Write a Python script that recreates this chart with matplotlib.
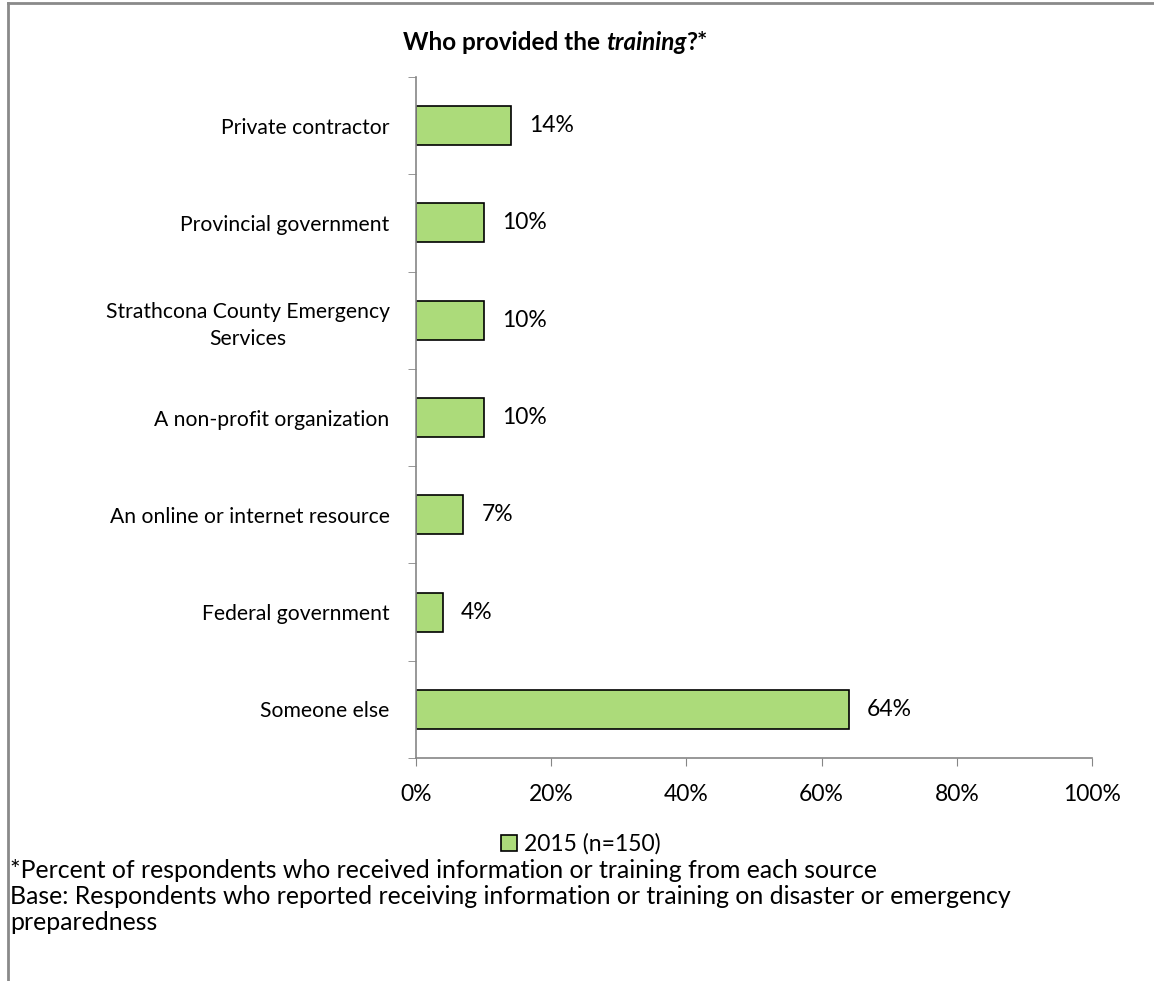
import matplotlib.pyplot as plt
from matplotlib.patches import Patch
from matplotlib.lines import Line2D

# data
categories = ["Private contractor", "Provincial government",
              "Strathcona County Emergency\nServices", "A non-profit organization",
              "An online or internet resource", "Federal government", "Someone else"]
values = [14, 10, 10, 10, 7, 4, 64]
series_name = "2015 (n=150)"
xticks = [0, 20, 40, 60, 80, 100]

plt.rcParams['font.family'] = ['Lato', 'DejaVu Sans']
FS_CAT = 15.2
FS_NUM = 16.5
FS_NOTE = 17.9
BAR = '#acdb7a'

fig = plt.figure(figsize=(11.54, 9.81), dpi=100)
ax = fig.add_axes([416 / 1154, 1 - 758 / 981, (1092 - 416) / 1154, (758 - 77) / 981])

y = list(range(len(categories)))[::-1]
bars = ax.barh(y, values, height=0.4, color=BAR, edgecolor='black', linewidth=1.2)
for yi, v in zip(y, values):
    ax.annotate(f"{v}%", (v, yi), xytext=(13, 0), textcoords='offset points',
                va='center', ha='left', fontsize=FS_NUM)

ax.set_xlim(0, 100)
ax.set_ylim(-0.5, len(categories) - 0.5)
ax.set_xticks(xticks)
ax.set_xticklabels([f"{t}%" for t in xticks], fontsize=FS_NUM)
ax.set_yticks(y)
ax.set_yticklabels(categories, fontsize=FS_CAT)
ax.tick_params(axis='y', length=0, pad=19)
ax.tick_params(axis='x', length=6, color='#868686', pad=13, direction='out')
ax.set_yticks([i - 0.5 for i in range(len(categories) + 1)], minor=True)
ax.tick_params(axis='y', which='minor', length=6, color='#868686', direction='out')
for lbl in ax.get_yticklabels():
    lbl.set_multialignment('center')
    lbl.set_linespacing(1.45)
for s in ['top', 'right']:
    ax.spines[s].set_visible(False)
for s in ['left', 'bottom']:
    ax.spines[s].set_color('#868686')
    ax.spines[s].set_linewidth(1.2)

# title with italic word
t1 = fig.text(403 / 1154, 1 - 43 / 981, "Who provided the ", fontsize=FS_NOTE - 0.4,
              fontweight='bold', ha='left', va='center')
t2 = ax.annotate("training", xy=(1, 0.5), xycoords=t1, va='center', ha='left',
                 fontsize=FS_NOTE - 0.4, fontweight='bold', fontstyle='italic')
t3 = ax.annotate("?*", xy=(1, 0.5), xycoords=t2, va='center', ha='left',
                 fontsize=FS_NOTE - 0.4, fontweight='bold')

# legend
handle = Patch(facecolor=BAR, edgecolor='black', linewidth=1.2)
fig.legend([handle], [series_name], loc='center', bbox_to_anchor=(581 / 1154, 1 - 844 / 981),
           frameon=False, fontsize=FS_NUM, handlelength=0.7, handleheight=0.7,
           handletextpad=0.3)

# footnotes
fig.text(10 / 1154, 1 - 871 / 981,
         "*Percent of respondents who received information or training from each source",
         fontsize=FS_NOTE, va='center', ha='left')
fig.text(10 / 1154, 1 - 897 / 981,
         "Base: Respondents who reported receiving information or training on disaster or emergency",
         fontsize=FS_NOTE, va='center', ha='left')
fig.text(10 / 1154, 1 - 923 / 981, "preparedness", fontsize=FS_NOTE, va='center', ha='left')

# border
fig.add_artist(Line2D([8 / 1154, 8 / 1154], [0, 1 - 3 / 981], color='#8a8a8a', lw=2,
                      transform=fig.transFigure))
fig.add_artist(Line2D([8 / 1154, 1], [1 - 3 / 981, 1 - 3 / 981], color='#8a8a8a', lw=2,
                      transform=fig.transFigure))

fig.savefig("out.png", dpi=100)
